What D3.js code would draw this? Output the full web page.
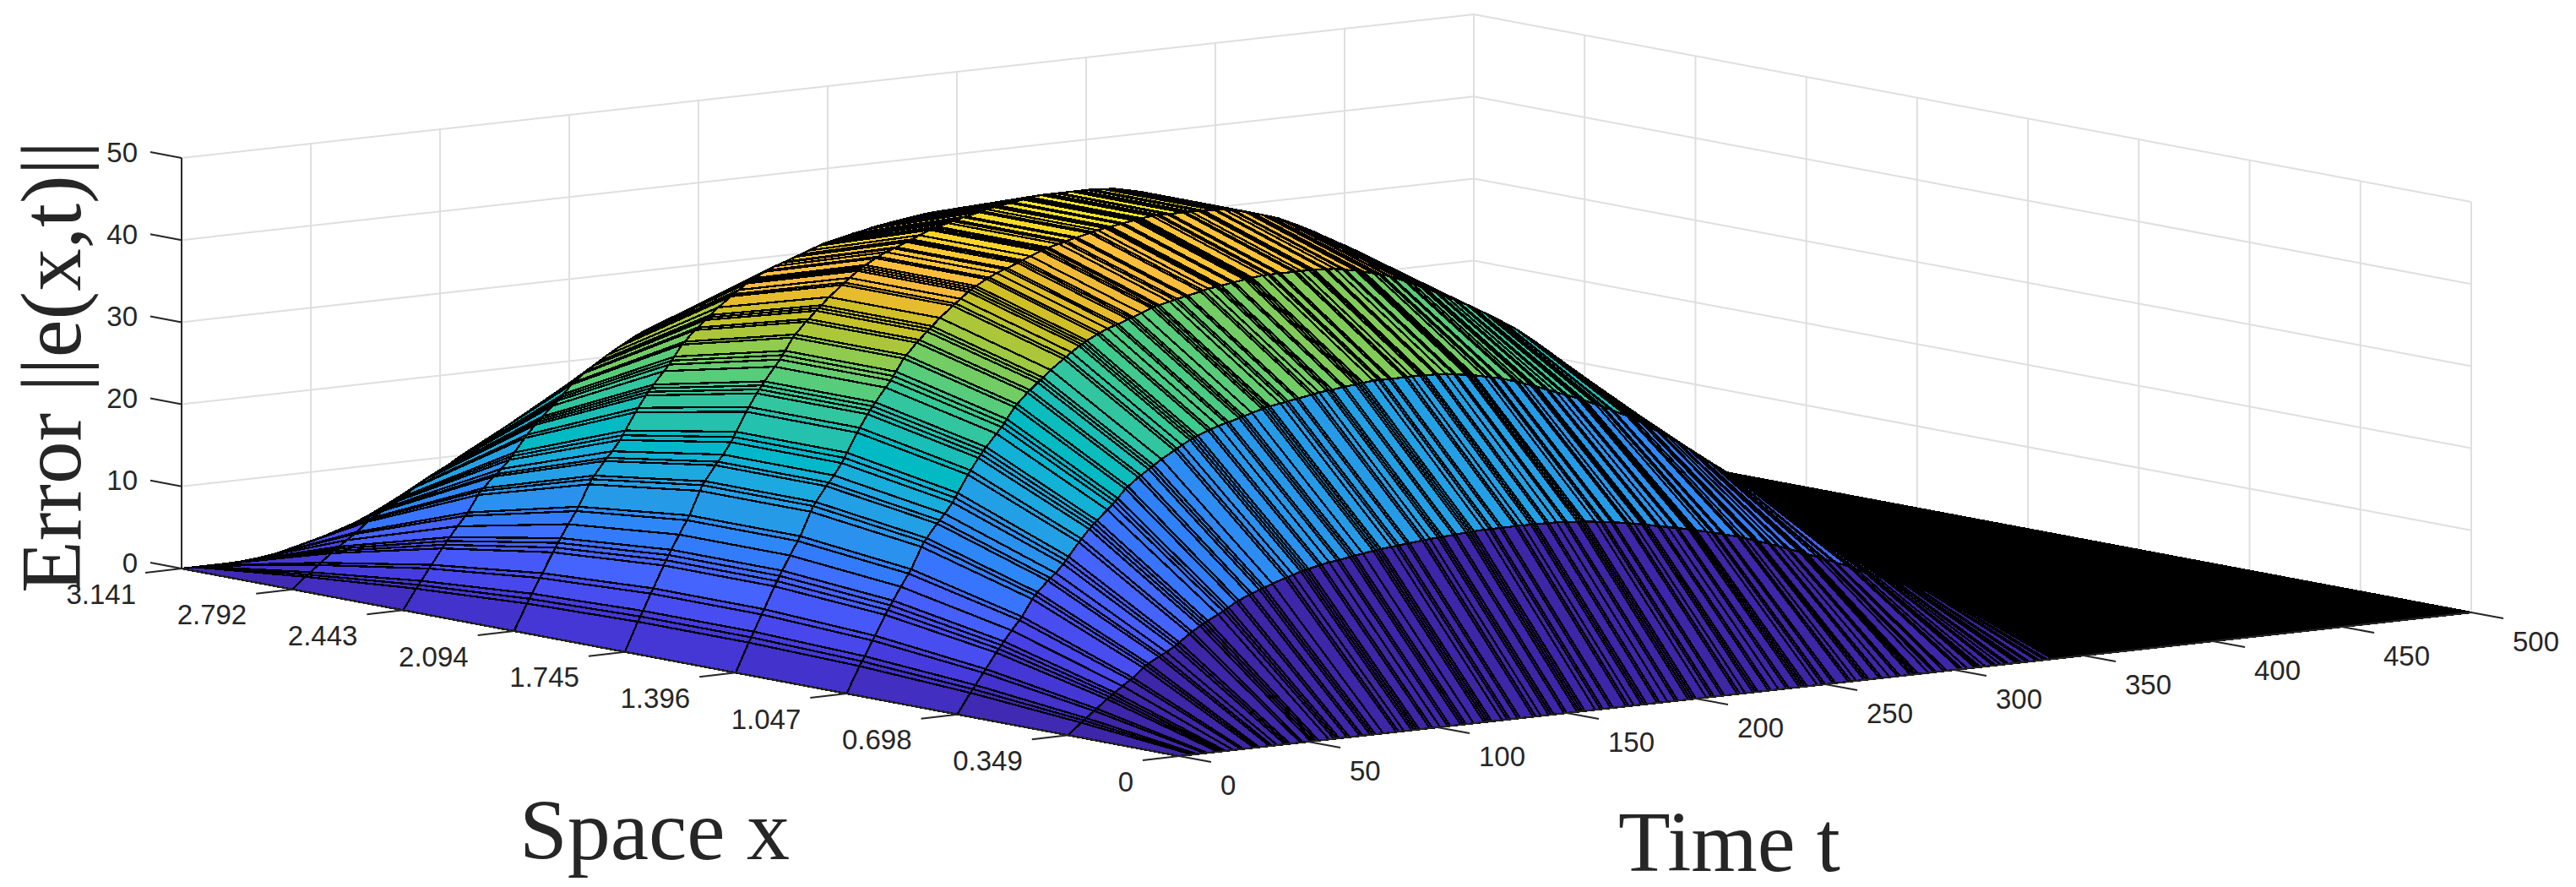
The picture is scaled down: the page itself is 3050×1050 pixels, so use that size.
<!DOCTYPE html>
<html>
<head>
<meta charset="utf-8">
<script src="https://cdn.jsdelivr.net/npm/d3@7"></script>
<style>
  body { margin: 0; background: #fff; }
  text { fill: #262626; }
</style>
</head>
<body>
<svg id="chart" width="3050" height="1050"></svg>
<script>
// tick labels as printed on the axes
const spaceTicks = ['0', '0.349', '0.698', '1.047', '1.396', '1.745', '2.094', '2.443', '2.792', '3.141'];
const timeTicks = [0, 50, 100, 150, 200, 250, 300, 350, 400, 450, 500];
const errorTicks = [0, 10, 20, 30, 40, 50];

// crest height of each space column, read at the top of the hump
const crestByColumn = [0, 19.4, 35, 45.3, 50, 50, 45.3, 35, 19.4, 0];

// mesh rows: [time, share of the crest reached at that time]
const meshRows = [
  [0,0],[5,.07],[6,.082],[7,.095],[10,.135],[11,.147],[15,.2],[16,.212],[17,.224],[18,.236],[21,.271],[24,.304],[25,.315],
  [29,.372],[30,.385],[31,.394],[35,.43],[36,.438],[38,.454],[41,.482],[42,.494],[43,.506],[47,.552],[48,.563],[51,.594],
  [52,.603],[53,.612],[54,.621],[58,.654],[60,.67],[61,.68],[62,.69],[65,.72],[66,.727],[70,.755],[71,.761],[74,.779],
  [75,.785],[76,.791],[79,.809],[84,.835],[85,.84],[87,.85],[90,.865],[91,.869],[92,.873],[93,.877],[97,.891],[98,.894],
  [101,.903],[104,.91],[105,.912],[109,.922],[110,.925],[111,.927],[114,.935],[118,.945],[119,.947],[120,.95],[121,.951],
  [125,.957],[127,.96],[128,.962],[131,.967],[132,.968],[137,.975],[138,.977],[140,.98],[143,.983],[144,.984],[145,.985],
  [149,.989],[150,.99],[154,.994],[155,.995],[156,.996],[157,.997],[161,1],[163,1],[164,1],[167,1],[168,1],[173,1],[174,1],
  [176,1],[179,1],[180,1],[181,.999],[185,.998],[186,.997],[189,.996],[192,.992],[193,.99],[197,.985],[198,.983],[199,.982],
  [200,.98],[204,.972],[206,.968],[207,.966],[210,.96],[211,.957],[216,.942],[217,.939],[219,.933],[222,.923],[223,.92],
  [224,.917],[228,.902],[229,.899],[232,.888],[235,.878],[236,.875],[240,.86],[241,.856],[242,.852],[243,.848],[247,.832],
  [249,.824],[250,.82],[253,.807],[254,.802],[259,.78],[260,.775],[262,.764],[265,.748],[266,.743],[267,.737],[271,.714],
  [272,.708],[275,.69],[278,.672],[279,.666],[283,.64],[284,.634],[285,.628],[286,.621],[290,.595],[292,.582],[293,.575],
  [296,.556],[297,.549],[302,.515],[303,.508],[305,.492],[308,.47],[309,.462],[310,.455],[312,.441],[315,.42],[316,.413],
  [318,.399],[320,.385],[321,.378],[324,.358],[325,.352],[326,.345],[328,.333],[329,.326],[332,.308],[333,.302],[335,.29],
  [336,.284],[338,.272],[339,.266],[340,.26],[341,.254],[342,.249],[343,.243],
  [344,.237],[345,.232],[346,.226],[347,.221],[348,.216],[349,.21],[350,.205],[351,.2],[352,.195],[353,.19],[354,.185],
  [355,.18],[356,.175],[357,.17],[358,.165],[359,.16],[360,.155],[361,.15],[362,.146],[363,.141],[364,.137],[365,.132],
  [366,.128],[367,.123],[368,.118],[369,.114],[370,.11],[371,.106],[372,.103],[373,.099],[374,.096],[375,.092],[376,.088],
  [377,.085],[378,.081],[379,.078],[380,.075],[382,.07],[384,.065],[385,.062],[387,.057],[389,.052],[390,.05],[392,.046],
  [394,.042],[396,.038],[398,.034],[400,.03],[402,.027],[404,.025],[406,.022],[408,.02],[410,.018],[412,.016],[414,.014],
  [416,.013],[418,.011],[420,.01],[422,.009],[424,.008],[426,.007],[428,.006],[430,.005],[432,.005],[434,.004],[436,.004],
  [438,.003],[440,.003],[442,.003],[444,.002],[446,.002],[448,.002],[450,.002],[452,.001],[454,.001],[456,.001],[458,.001],
  [460,.001],[462,.001],[464,.001],[466,0],[468,0],[470,0],[472,0],[474,0],[476,0],[478,0],[480,0],[482,0],[484,0],
  [486,0],[488,0],[490,0],[492,0],[494,0],[496,0],[498,0],[500,0]
];

// parula, 64 steps
const parula = [
  [.2422,.1504,.6603],[.2504,.1650,.7076],[.2578,.1818,.7511],[.2647,.1978,.7952],[.2706,.2147,.8364],[.2751,.2342,.8710],
  [.2783,.2559,.8991],[.2803,.2782,.9221],[.2813,.3006,.9414],[.2810,.3228,.9579],[.2795,.3447,.9717],[.2760,.3667,.9829],
  [.2699,.3892,.9906],[.2602,.4123,.9952],[.2440,.4358,.9988],[.2206,.4603,.9973],[.1963,.4847,.9892],[.1834,.5074,.9798],
  [.1786,.5289,.9682],[.1764,.5499,.9520],[.1687,.5703,.9359],[.1540,.5902,.9218],[.1460,.6091,.9079],[.1380,.6276,.8973],
  [.1248,.6459,.8883],[.1113,.6635,.8763],[.0952,.6798,.8598],[.0689,.6948,.8394],[.0297,.7082,.8163],[.0036,.7203,.7917],
  [.0067,.7312,.7660],[.0433,.7411,.7394],[.0964,.7500,.7120],[.1408,.7584,.6842],[.1717,.7670,.6554],[.1938,.7758,.6251],
  [.2161,.7843,.5923],[.2470,.7918,.5567],[.2906,.7973,.5188],[.3406,.8008,.4789],[.3909,.8029,.4354],[.4456,.8024,.3909],
  [.5044,.7993,.3480],[.5616,.7942,.3045],[.6174,.7876,.2612],[.6720,.7793,.2227],[.7242,.7698,.1910],[.7738,.7598,.1646],
  [.8203,.7498,.1535],[.8634,.7406,.1596],[.9035,.7330,.1774],[.9393,.7288,.2100],[.9728,.7298,.2394],[.9956,.7434,.2371],
  [.9970,.7659,.2199],[.9952,.7861,.1991],[.9892,.8082,.1812],[.9786,.8296,.1644],[.9676,.8518,.1497],[.9610,.8743,.1354],
  [.9597,.8969,.1132],[.9628,.9209,.0829],[.9691,.9476,.0554],[.9769,.9839,.0805]
].map(([r, g, b]) => d3.rgb(r * 255, g * 255, b * 255).formatHex());

const svg = d3.select('#chart');
const ink = '#262626';
const gridColor = '#dfdfdf';

// oblique projection of the box, anchored on the (x=0, t=0, z=0) corner
const corner = { x: 1396, y: 895 };
const spaceMax = +spaceTicks[spaceTicks.length - 1];
const sxSpace = d3.scaleLinear().domain([0, spaceMax]).range([0, -1181]);
const sySpace = d3.scaleLinear().domain([0, spaceMax]).range([0, -222]);
const sxTime = d3.scaleLinear().domain([0, 500]).range([0, 1530]);
const syTime = d3.scaleLinear().domain([0, 500]).range([0, -170]);
const syError = d3.scaleLinear().domain([0, 50]).range([0, -486]);

const project = (x, t, z) => [
  corner.x + sxSpace(x) + sxTime(t),
  corner.y + sySpace(x) + syTime(t) + syError(z)
];

const color = d3.scaleQuantize().domain([0, 53]).range(parula);
const outline = d3.line();
const spaceValues = spaceTicks.map(Number);

function segment(g, a, b, stroke, width) {
  g.append('line')
    .attr('x1', a[0]).attr('y1', a[1])
    .attr('x2', b[0]).attr('y2', b[1])
    .attr('stroke', stroke)
    .attr('stroke-width', width);
}

// back walls
const walls = svg.append('g');
errorTicks.forEach((z) => {
  segment(walls, project(spaceMax, 0, z), project(spaceMax, 500, z), gridColor, 2);
  segment(walls, project(spaceMax, 500, z), project(0, 500, z), gridColor, 2);
});
timeTicks.forEach((t) => {
  segment(walls, project(spaceMax, t, 0), project(spaceMax, t, 50), gridColor, 2);
});
spaceValues.forEach((x) => {
  segment(walls, project(x, 500, 0), project(x, 500, 50), gridColor, 2);
});

// surface, far quads first so the near ones paint over them
const quads = [];
for (let j = meshRows.length - 2; j >= 0; j--) {
  for (let i = spaceValues.length - 2; i >= 0; i--) {
    const [t0, f0] = meshRows[j];
    const [t1, f1] = meshRows[j + 1];
    quads.push({
      level: crestByColumn[i] * f1,
      points: [
        project(spaceValues[i], t0, crestByColumn[i] * f0),
        project(spaceValues[i + 1], t0, crestByColumn[i + 1] * f0),
        project(spaceValues[i + 1], t1, crestByColumn[i + 1] * f1),
        project(spaceValues[i], t1, crestByColumn[i] * f1)
      ]
    });
  }
}

svg.append('g')
  .attr('shape-rendering', 'crispEdges')
  .selectAll('path')
  .data(quads)
  .join('path')
  .attr('d', (d) => outline(d.points) + 'Z')
  .attr('fill', (d) => color(d.level))
  .attr('stroke', '#000')
  .attr('stroke-width', 2.3)
  .attr('stroke-linejoin', 'round');

// axes and ticks
const axes = svg.append('g');
segment(axes, project(spaceMax, 0, 0), project(spaceMax, 0, 50), ink, 2);
segment(axes, project(spaceMax, 0, 0), project(0, 0, 0), ink, 2);
segment(axes, project(0, 0, 0), project(0, 500, 0), ink, 2);

errorTicks.forEach((z) => {
  const p = project(spaceMax, 0, z);
  segment(axes, p, [p[0] - 37, p[1] - 7], ink, 2);
  axes.append('text')
    .attr('x', p[0] - 52).attr('y', p[1] - 7)
    .attr('dy', '0.35em')
    .attr('text-anchor', 'end')
    .attr('font-family', 'Liberation Sans').attr('font-size', 33)
    .text(z);
});

spaceTicks.forEach((label, i) => {
  const p = project(spaceValues[i], 0, 0);
  segment(axes, p, [p[0] - 43, p[1] + 5], ink, 2);
  axes.append('text')
    .attr('x', p[0] - 54).attr('y', p[1] + 30)
    .attr('dy', '0.35em')
    .attr('text-anchor', 'end')
    .attr('font-family', 'Liberation Sans').attr('font-size', 33)
    .text(label);
});

timeTicks.forEach((t) => {
  const p = project(0, t, 0);
  segment(axes, p, [p[0] + 38, p[1] + 7], ink, 2);
  axes.append('text')
    .attr('x', p[0] + 49).attr('y', p[1] + 34)
    .attr('dy', '0.35em')
    .attr('text-anchor', 'start')
    .attr('font-family', 'Liberation Sans').attr('font-size', 33)
    .text(t);
});

// axis titles
const titles = svg.append('g')
  .attr('font-family', 'Liberation Serif')
  .attr('font-size', 101);
titles.append('text')
  .attr('transform', 'translate(95,702) rotate(-90)')
  .text('Error ||e(x,t)||');
titles.append('text').attr('x', 615).attr('y', 1017).attr('font-size', 102).text('Space x');
titles.append('text').attr('x', 1916).attr('y', 1031).text('Time t');
</script>
</body>
</html>
